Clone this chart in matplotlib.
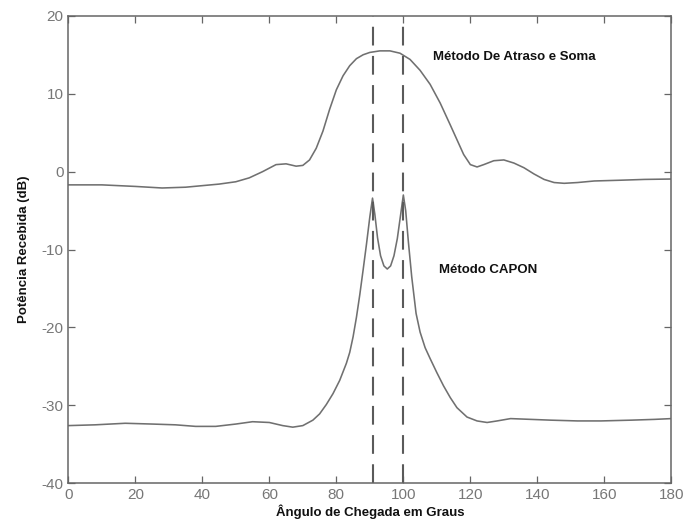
import matplotlib.pyplot as plt

plt.rcParams['font.family'] = ['Liberation Sans', 'DejaVu Sans']
plt.rcParams['axes.unicode_minus'] = False

# Atraso e Soma (delay-and-sum) curve
ang_ds = [0, 10, 20, 28, 35, 45, 50, 54, 58, 62, 65, 68, 70, 72, 74, 76, 78, 80,
          82, 84, 86, 88, 90, 93, 96, 99, 102, 105, 108, 111, 114, 116, 118, 120,
          122, 124, 127, 130, 133, 136, 139, 142, 145, 148, 152, 157, 165, 172, 180]
pot_ds = [-1.7, -1.7, -1.9, -2.1, -2.0, -1.6, -1.3, -0.8, 0.0, 0.9, 1.0, 0.7, 0.8,
          1.5, 3.0, 5.2, 8.0, 10.5, 12.3, 13.6, 14.5, 15.0, 15.3, 15.5, 15.5, 15.2,
          14.4, 13.0, 11.2, 8.8, 6.0, 4.1, 2.2, 0.9, 0.6, 0.9, 1.4, 1.5, 1.1, 0.5,
          -0.3, -1.0, -1.4, -1.5, -1.4, -1.2, -1.1, -1.0, -0.95]

# CAPON curve
ang_cp = [0, 8, 17, 25, 32, 38, 44, 50, 55, 60, 64, 67, 70, 73, 75, 77, 79, 81,
          83, 84, 85, 86, 87, 88, 89, 90, 90.8, 91.5, 92.3, 93.2, 94.2, 95.2, 96.2,
          97.2, 98.2, 99.2, 100, 100.7, 101.5, 102.5, 103.8, 105, 106.5, 108, 110,
          112, 114, 116, 119, 122, 125, 128, 132, 138, 144, 152, 159, 168, 175, 180]
pot_cp = [-32.6, -32.5, -32.3, -32.4, -32.5, -32.7, -32.7, -32.4, -32.1, -32.2,
          -32.6, -32.8, -32.6, -31.9, -31.1, -29.9, -28.5, -26.8, -24.6, -23.2,
          -21.2, -18.7, -15.8, -12.6, -9.3, -5.8, -3.4, -5.5, -8.5, -10.8, -12.1,
          -12.5, -12.1, -10.8, -8.6, -5.5, -3.0, -5.0, -9.0, -13.5, -18.2, -20.6,
          -22.6, -24.0, -25.8, -27.5, -29.0, -30.3, -31.5, -32.0, -32.2, -32.0,
          -31.7, -31.8, -31.9, -32.0, -32.0, -31.9, -31.8, -31.7]

# true directions of arrival
doa = [91, 100]

fig = plt.figure(figsize=(6.9, 5.27), dpi=100)
ax = fig.add_axes([0.099, 0.083, 0.874, 0.887])

ax.plot(ang_ds, pot_ds, color='#707070', linewidth=1.15)
ax.plot(ang_cp, pot_cp, color='#707070', linewidth=1.15)
for d in doa:
    ax.plot([d, d], [-40, 20], color='#5a5a5a', linewidth=1.5, dashes=(9, 5))

ax.text(109, 14.7, 'Método De Atraso e Soma', fontsize=9.5, fontweight='bold',
        va='center', color='#111111')
ax.text(110.7, -12.6, 'Método CAPON', fontsize=9.5, fontweight='bold',
        va='center', color='#111111')

ax.set_xlim(0, 180)
ax.set_ylim(-40, 20)
ax.set_xticks(range(0, 181, 20))
ax.set_yticks(range(-40, 21, 10))
ax.tick_params(direction='in', top=True, right=True, length=5, width=0.9,
               colors='#666666', labelsize=11, labelcolor='#777777')
for s in ax.spines.values():
    s.set_color('#666666')
    s.set_linewidth(1.1)

ax.set_xlabel('Ângulo de Chegada em Graus', fontsize=9.5, fontweight='bold',
              color='#111111', labelpad=2)
ax.set_ylabel('Potência Recebida (dB)', fontsize=9.5, fontweight='bold',
              color='#111111', labelpad=8)

fig.savefig('out.png', dpi=100)
